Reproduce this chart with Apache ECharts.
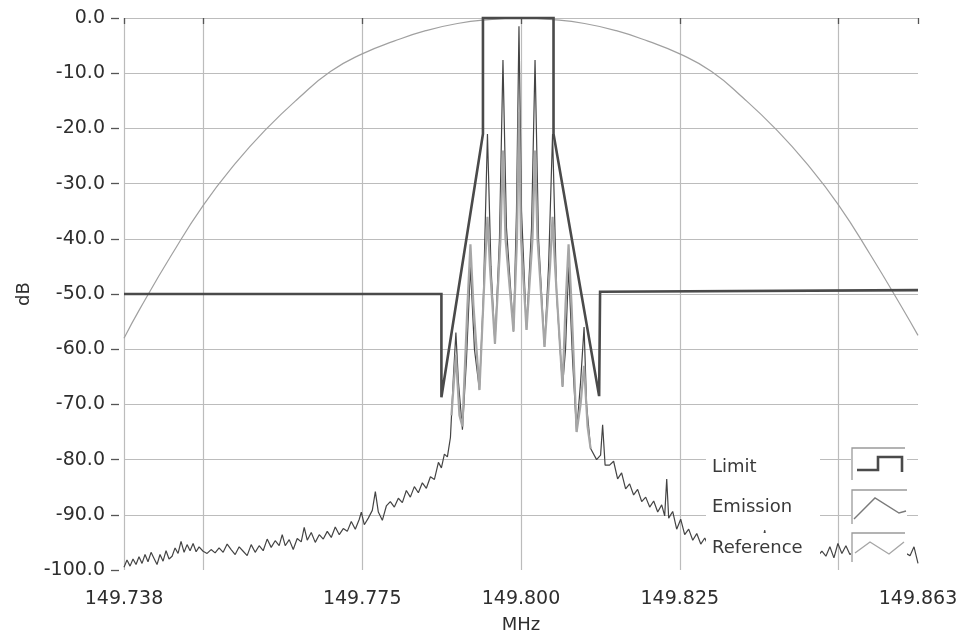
<!DOCTYPE html>
<html><head><meta charset="utf-8">
<script src="https://cdn.jsdelivr.net/npm/echarts@6/dist/echarts.min.js"></script>
<style>html,body{margin:0;padding:0;background:#fff}#c{width:960px;height:635px}</style>
</head><body><div id="c"></div>
<script>
const seriesNames = ['Limit', 'Emission', 'Reference'];
const xAxisName = 'MHz';
const yAxisName = 'dB';
const xTickValues = [149.7375, 149.75, 149.775, 149.8, 149.825, 149.85, 149.8625];
const xLabelValues = [149.7375, 149.775, 149.8, 149.825, 149.8625];
const xTickLabels = ['149.738', '149.775', '149.800', '149.825', '149.863'];

const limitFreq = [149.7375, 149.78747, 149.78747, 149.78770, 149.79401, 149.79401, 149.80512, 149.80512, 149.81230, 149.81245, 149.81245, 149.8625];
const limitDb = [-50, -50, -68.7, -68.7, -21, 0, 0, -21, -68.5, -68.5, -49.6, -49.3];

const emissionFreq = [
149.73750,149.73797,149.73845,149.73892,149.73939,149.73986,149.74034,149.74081,149.74128,149.74176,
149.74223,149.74270,149.74317,149.74365,149.74412,149.74459,149.74507,149.74554,149.74601,149.74648,
149.74696,149.74743,149.74790,149.74838,149.74885,149.74932,149.74995,149.75058,149.75121,149.75184,
149.75247,149.75311,149.75374,149.75437,149.75500,149.75563,149.75626,149.75689,149.75752,149.75815,
149.75878,149.75941,149.76004,149.76067,149.76130,149.76193,149.76241,149.76288,149.76351,149.76414,
149.76477,149.76540,149.76587,149.76635,149.76698,149.76761,149.76824,149.76887,149.76950,149.77013,
149.77076,149.77139,149.77202,149.77265,149.77328,149.77391,149.77454,149.77486,149.77533,149.77596,
149.77659,149.77707,149.77754,149.77817,149.77880,149.77943,149.78006,149.78069,149.78132,149.78195,
149.78258,149.78321,149.78384,149.78447,149.78510,149.78574,149.78637,149.78700,149.78747,149.78794,
149.78841,
149.78889,149.78936,149.78975,149.79015,149.79078,149.79141,149.79204,149.79267,149.79346,149.79409,
149.79472,149.79527,149.79590,149.79661,149.79716,149.79771,149.79882,149.79929,149.79968,149.80008,
149.80087,149.80166,149.80221,149.80276,149.80370,149.80434,149.80497,149.80560,149.80654,149.80701,
149.80749,149.80812,149.80875,149.80938,149.80993,149.81032,149.81096,149.81190,149.81253,149.81285,
149.81324,
149.81395,149.81458,149.81521,149.81584,149.81647,149.81710,149.81773,149.81836,149.81900,149.81963,
149.82026,149.82089,149.82152,149.82215,149.82262,149.82294,149.82325,149.82388,149.82451,149.82514,
149.82577,149.82640,149.82704,149.82767,149.82830,149.82893,149.82956,149.83019,149.83082,149.83145,
149.83208,149.83271,149.83366,149.83460,149.83555,149.83649,149.83744,149.83838,149.83886,149.83980,
149.84075,149.84169,149.84264,149.84359,149.84453,149.84548,149.84642,149.84737,149.84800,149.84863,
149.84926,149.84989,149.85052,149.85115,149.85178,149.85273,149.85367,149.85462,149.85557,149.85651,
149.85746,149.85840,149.85935,149.86029,149.86124,149.86187,149.86250
];
const emissionDb = [
-99.5,-98.2,-99.3,-98.0,-99.0,-97.6,-98.8,-97.2,-98.5,-96.8,
-97.9,-99.0,-97.2,-98.4,-96.5,-98.0,-97.5,-96.0,-97.0,-94.8,
-96.8,-95.4,-96.5,-95.2,-96.7,-95.8,-96.6,-97.0,-96.3,-96.9,
-96.0,-96.8,-95.3,-96.3,-97.2,-95.8,-96.6,-97.4,-95.4,-96.8,
-95.6,-96.5,-94.4,-95.9,-94.7,-95.6,-93.6,-95.6,-94.5,-96.3,
-94.3,-94.9,-92.3,-94.6,-93.2,-95.0,-93.6,-94.4,-93.0,-94.1,
-92.2,-93.6,-92.5,-93.0,-91.2,-92.6,-90.8,-89.5,-91.8,-90.6,
-89.2,-85.8,-89.5,-91.0,-88.4,-87.6,-88.6,-87.0,-87.8,-85.6,
-86.8,-84.9,-86.0,-84.2,-85.2,-83.1,-83.6,-80.5,-81.5,-79.0,
-79.5,
-76.0,-65,-57,-66,-74.6,-62,-45,-60,-67.4,-50,
-21,-45,-59,-40,-7.6,-38,-56.8,-35,-1.5,-35,
-56.5,-38,-7.6,-40,-59.6,-45,-21,-50,-66.8,-60,
-45,-62,-75,-66,-56,-70,-78,-80,-79.2,-73.7,
-81,
-81.0,-80.3,-83.5,-82.4,-85.3,-84.4,-86.4,-85.4,-87.6,-86.8,
-88.6,-87.5,-89.5,-88.2,-90.2,-83.5,-90.6,-89.4,-92.6,-90.8,
-93.6,-92.6,-94.6,-93.4,-95.3,-94.2,-95.8,-93.8,-96.2,-95.0,
-96.8,-95.2,-97.0,-96.0,-97.4,-96.3,-97.6,-92.8,-97.2,-96.4,
-97.8,-96.6,-97.5,-96.2,-97.6,-96.5,-97.8,-96.6,-97.5,-95.8,
-97.8,-95.2,-97.0,-95.6,-97.2,-96.4,-97.6,-96.6,-97.8,-96.8,
-97.5,-96.5,-97.7,-96.8,-97.4,-95.8,-98.8
];

const referenceFreq = [149.78905,149.78975,149.79031,149.79078,149.79157,149.79204,149.79251,149.79346,149.79433,149.79472,149.79511,149.79590,149.79677,149.79716,149.79756,149.79882,149.79937,149.79968,149.80000,149.80087,149.80181,149.80221,149.80260,149.80370,149.80457,149.80497,149.80536,149.80654,149.80701,149.80749,149.80796,149.80875,149.80938,149.80993,149.81048,149.81096];
const referenceDb = [-72,-61,-72,-74,-52,-41,-52,-67.4,-45,-36,-45,-59,-40,-24,-40,-56.8,-40,-17,-40,-56.5,-40,-24,-40,-59.6,-45,-36,-45,-66.8,-52,-41,-52,-75,-70,-63,-74,-78];

const arcFreq = [149.7375,149.740,149.745,149.750,149.755,149.760,149.765,149.770,149.775,149.780,149.785,149.790,149.795,149.800,149.805,149.810,149.815,149.820,149.825,149.830,149.835,149.840,149.845,149.850,149.855,149.860,149.8625];
const arcDb = [-58,-52.7,-42.9,-33.9,-26.4,-20,-14.5,-9.7,-6.5,-4.2,-2.3,-1.0,-0.3,0,-0.3,-1.0,-2.3,-4.2,-6.5,-9.7,-14.5,-20,-26.4,-33.9,-42.9,-52.5,-57.5];

function zip(xs, ys) {
  const n = Math.min(xs.length, ys.length);
  const out = [];
  for (let i = 0; i < n; i++) out.push([xs[i], ys[i]]);
  return out;
}

const FONT = 'DejaVu Sans';
const TXT = '#2e2e2e';
const GRID = '#bcbcbc';
const cLimit = '#4a4a4a', cEmission = '#444444', cReference = '#a6a6a6', cArc = '#a0a0a0';

const chart = echarts.init(document.getElementById('c'), null, {renderer: 'canvas'});

// LabVIEW-style plot legend built from the series names
const lx = 712, boxX = 851;
const rowsY = [467, 507, 548];
const graphic = [];
const labelBg = [[446, 38], [490, 30], [533, 32]];
const iconBg = [[447, 33], [489, 35], [532, 33]];
seriesNames.forEach((name, i) => {
  graphic.push({type: 'rect', z: 100, shape: {x: 706, y: labelBg[i][0], width: 114, height: labelBg[i][1]}, style: {fill: '#fff'}});
  graphic.push({type: 'rect', z: 100, shape: {x: boxX, y: iconBg[i][0], width: 56, height: iconBg[i][1]}, style: {fill: '#fff'}});
  graphic.push({type: 'text', z: 101, x: lx, y: rowsY[i], style: {text: name, font: '18px "DejaVu Sans"', fill: '#3a3a3a', verticalAlign: 'middle', textAlign: 'left'}});
});
graphic.push({type: 'polyline', z: 101, shape: {points: [[852, 480], [852, 448], [905, 448]]}, style: {stroke: '#9a9a9a', lineWidth: 1.3, fill: null}});
graphic.push({type: 'polyline', z: 101, shape: {points: [[852, 524], [852, 490], [907, 490]]}, style: {stroke: '#9a9a9a', lineWidth: 1.3, fill: null}});
graphic.push({type: 'polyline', z: 101, shape: {points: [[852, 562], [852, 533], [905, 533]]}, style: {stroke: '#9a9a9a', lineWidth: 1.3, fill: null}});
graphic.push({type: 'polyline', z: 102, shape: {points: [[857, 470], [878, 470], [878, 457], [902, 457], [902, 472]]}, style: {stroke: cLimit, lineWidth: 2.6, fill: null}});
graphic.push({type: 'polyline', z: 102, shape: {points: [[854, 519], [875, 498], [899, 513], [906, 511]]}, style: {stroke: '#7a7a7a', lineWidth: 1.4, fill: null}});
graphic.push({type: 'polyline', z: 102, shape: {points: [[855, 553], [870, 542], [889, 554], [904, 542]]}, style: {stroke: cReference, lineWidth: 1.4, fill: null}});

const option = {
  animation: false,
  backgroundColor: '#fff',
  grid: {left: 124, right: 42, top: 18, bottom: 65, containLabel: false, outerBoundsMode: 'none'},
  xAxis: {
    type: 'value', min: 149.7375, max: 149.8625,
    offset: 5,
    name: xAxisName, nameLocation: 'middle', nameGap: 41,
    nameTextStyle: {fontFamily: FONT, fontSize: 18, color: TXT},
    axisLine: {show: false},
    axisTick: {show: true, length: 6, customValues: xTickValues, lineStyle: {color: '#555', width: 1.3}},
    axisLabel: {
      customValues: xLabelValues, margin: 15, fontFamily: FONT, fontSize: 19, color: TXT,
      formatter: function (v) {
        for (let i = 0; i < xLabelValues.length; i++) if (Math.abs(v - xLabelValues[i]) < 1e-6) return xTickLabels[i];
        return '';
      }
    },
    splitLine: {show: true, showMinLine: true, showMaxLine: false, lineStyle: {color: GRID, width: 1.2}}
  },
  yAxis: {
    type: 'value', min: -100, max: 0, interval: 10,
    offset: 5,
    name: yAxisName, nameLocation: 'middle', nameGap: 84, nameRotate: 90,
    nameTextStyle: {fontFamily: FONT, fontSize: 18, color: TXT},
    axisLine: {show: false},
    axisTick: {show: true, length: 8, lineStyle: {color: '#555', width: 1.3}},
    axisLabel: {margin: 14, fontFamily: FONT, fontSize: 19, color: TXT, formatter: v => v.toFixed(1)},
    splitLine: {show: true, showMinLine: false, lineStyle: {color: GRID, width: 1.2}}
  },
  graphic: graphic,
  series: [
    {name: 'arc', type: 'line', data: zip(arcFreq, arcDb), smooth: true, showSymbol: false, clip: false,
      lineStyle: {color: cArc, width: 1.2}, z: 2, silent: true},
    {name: seriesNames[1], type: 'line', data: zip(emissionFreq, emissionDb), showSymbol: false, clip: false,
      lineStyle: {color: cEmission, width: 1.2}, z: 3},
    {name: seriesNames[2], type: 'line', data: zip(referenceFreq, referenceDb), showSymbol: false, clip: false,
      lineStyle: {color: cReference, width: 2.2}, z: 4},
    {name: seriesNames[0], type: 'line', data: zip(limitFreq, limitDb), showSymbol: false, clip: false,
      lineStyle: {color: cLimit, width: 2.6, join: 'miter'}, z: 5}
  ]
};
chart.setOption(option);
</script>
</body></html>
